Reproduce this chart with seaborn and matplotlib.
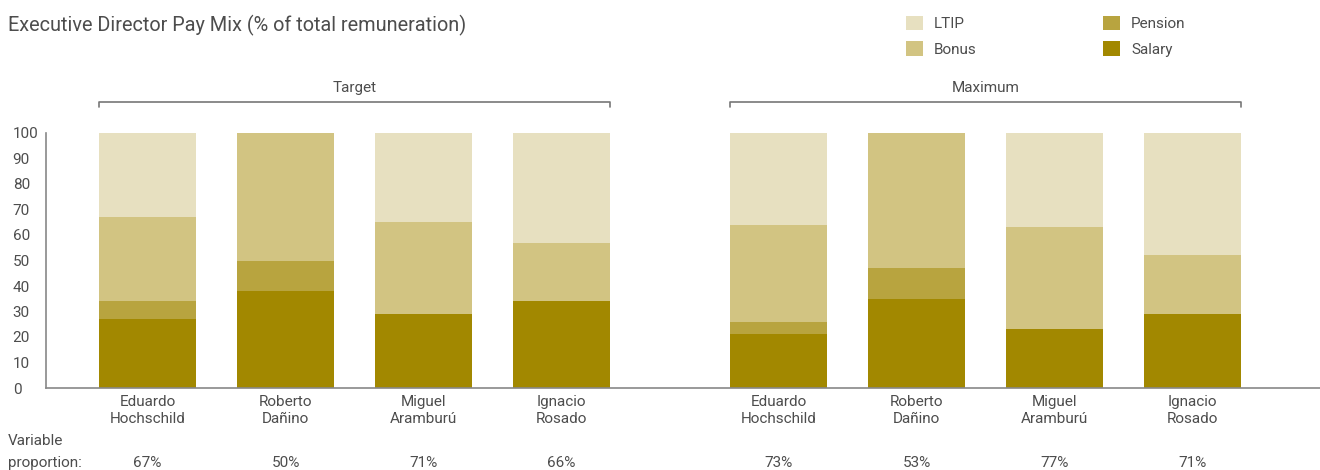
import matplotlib
matplotlib.use("Agg")
import matplotlib.pyplot as plt
import matplotlib.transforms as mtransforms
from matplotlib.patches import Patch
import seaborn as sns
import pandas as pd
import numpy as np

# ---- data ----
names = ["Eduardo\nHochschild", "Roberto\nDañino", "Miguel\nAramburú", "Ignacio\nRosado"]
scenarios = ["Target", "Maximum"]
salary  = [27, 38, 29, 34, 21, 35, 23, 29]
pension = [7, 12, 0, 0, 5, 12, 0, 0]
bonus   = [33, 50, 36, 23, 38, 53, 40, 23]
ltip    = [33, 0, 35, 43, 36, 0, 37, 48]
variable = ["67%", "50%", "71%", "66%", "73%", "53%", "77%", "71%"]
components = ["LTIP", "Bonus", "Pension", "Salary"]
colors = {"LTIP": "#E7E0C0", "Bonus": "#D2C482", "Pension": "#B8A43F", "Salary": "#A28800"}

TEXT = "#4d4d4d"
sns.set_theme(style="white")
plt.rcParams["font.family"] = ["Roboto", "DejaVu Sans"]
plt.rcParams["text.color"] = TEXT

# layout positions (slot spacing 1, with a group gap)
gap = 1.5725
pos = [0, 1, 2, 3, 3 + gap, 4 + gap, 5 + gap, 6 + gap]

df = pd.DataFrame({"pos": pos, "Salary": salary, "Pension": pension,
                   "Bonus": bonus, "LTIP": ltip})
df["c_Salary"] = df["Salary"]
df["c_Pension"] = df["c_Salary"] + df["Pension"]
df["c_Bonus"] = df["c_Pension"] + df["Bonus"]
df["c_LTIP"] = df["c_Bonus"] + df["LTIP"]

fig = plt.figure(figsize=(13.2, 4.7), dpi=100)
ax = fig.add_axes([46 / 1320, 1 - 388 / 470, 1 - 46 / 1320, (388 - 133) / 470])

width = 97 / 138
for comp in components:  # draw cumulative from top to bottom
    sns.barplot(data=df, x="pos", y="c_" + comp, native_scale=True, width=width,
                color=colors[comp], saturation=1, linewidth=0, ax=ax, errorbar=None)

ax.set_ylim(0, 100)
ax.set_xlim(-0.7355, 8.496)
ax.set_yticks(range(0, 101, 10))
ax.set_xticks(pos)
ax.set_xticklabels([n for _ in scenarios for n in names], fontsize=11, color=TEXT,
                   linespacing=1.25)
ax.set_xlabel("")
ax.set_ylabel("")
ax.tick_params(axis="both", length=0, labelsize=11, colors=TEXT)
ax.tick_params(axis="x", pad=5)
ax.tick_params(axis="y", pad=24)
for lab in ax.get_yticklabels():
    lab.set_horizontalalignment("left")
for s in ["top", "right"]:
    ax.spines[s].set_visible(False)
for s in ["left", "bottom"]:
    ax.spines[s].set_color("#888888")
    ax.spines[s].set_linewidth(1.2)

# variable proportion row
trans = mtransforms.blended_transform_factory(ax.transData, fig.transFigure)
for p, v in zip(pos, variable):
    ax.text(p, 1 - 463 / 470, v, transform=trans, ha="center", va="center",
            fontsize=11, color=TEXT)
fig.text(8 / 1320, 1 - 441 / 470, "Variable", ha="left", va="center",
         fontsize=11, color=TEXT)
fig.text(8 / 1320, 1 - 463 / 470, "proportion:", ha="left", va="center",
         fontsize=11, color=TEXT)

# scenario brackets
half = width / 2
groups = [pos[:4], pos[4:]]
btrans = mtransforms.blended_transform_factory(ax.transData, fig.transFigure)
yb = 1 - 102 / 470
yt = 1 - 107 / 470
for scen, g in zip(scenarios, groups):
    x0, x1 = g[0] - half, g[-1] + half
    ax.plot([x0, x0, x1, x1], [yt, yb, yb, yt], transform=btrans, color="#777777",
            lw=1.2, clip_on=False)
    ax.text((x0 + x1) / 2, 1 - 88 / 470, scen, transform=btrans, ha="center",
            va="center", fontsize=11, color=TEXT)

# title
fig.text(8 / 1320, 1 - 25 / 470, "Executive Director Pay Mix (% of total remuneration)",
         ha="left", va="center", fontsize=14.3, color=TEXT)

# legend
handles = [Patch(facecolor=colors[c], edgecolor="none", label=c) for c in components]
fig.legend(handles=handles, ncol=2, loc="upper left", bbox_to_anchor=(892 / 1320, 1 - 2 / 470),
           frameon=False, fontsize=11, handlelength=1.1, handleheight=1.1,
           handletextpad=0.75, columnspacing=8.25, labelspacing=0.65, labelcolor=TEXT)

fig.savefig("out.png", dpi=100)
